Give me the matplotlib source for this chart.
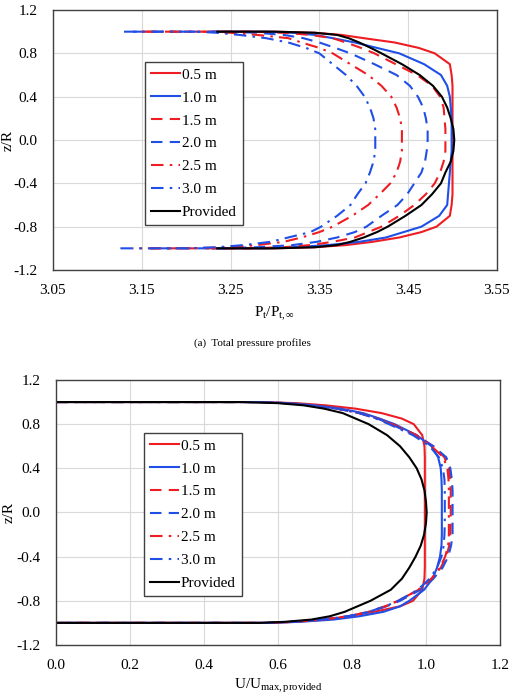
import matplotlib
matplotlib.use("Agg")
import matplotlib.pyplot as plt

plt.rcParams['font.family'] = ['Liberation Serif', 'DejaVu Serif']
plt.rcParams['mathtext.fontset'] = 'custom'
plt.rcParams['mathtext.rm'] = 'Liberation Serif'
plt.rcParams['mathtext.it'] = 'Liberation Serif:italic'

labels = ["0.5 m", "1.0 m", "1.5 m", "2.0 m", "2.5 m", "3.0 m", "Provided"]

# common z/R grid for every profile
z_grid = [1.0, 1.0, 0.99, 0.97, 0.94, 0.9, 0.85, 0.8, 0.7, 0.6, 0.5, 0.4, 0.3, 0.2, 0.1, 0.0,
          -0.1, -0.2, -0.3, -0.4, -0.5, -0.6, -0.7, -0.8, -0.85, -0.9, -0.94, -0.97, -0.99, -1.0, -1.0]

# (a) total pressure profiles Pt/Pt,inf
pt_05 = [3.23, 3.30, 3.345, 3.375, 3.40, 3.435, 3.462, 3.48, 3.497, 3.499, 3.5, 3.5, 3.5, 3.5, 3.5, 3.5,
         3.5, 3.5, 3.5, 3.5, 3.5, 3.499, 3.497, 3.482, 3.465, 3.44, 3.41, 3.38, 3.345, 3.30, 3.23]
pt_10 = [3.23, 3.29, 3.32, 3.345, 3.365, 3.39, 3.415, 3.44, 3.468, 3.487, 3.494, 3.497, 3.498, 3.499, 3.499, 3.499,
         3.499, 3.498, 3.497, 3.496, 3.495, 3.494, 3.485, 3.465, 3.445, 3.425, 3.395, 3.36, 3.32, 3.29, 3.23]
pt_15 = [3.155, 3.27, 3.31, 3.34, 3.365, 3.38, 3.397, 3.412, 3.436, 3.46, 3.477, 3.486, 3.49, 3.491, 3.492, 3.492,
         3.492, 3.49, 3.486, 3.48, 3.47, 3.457, 3.44, 3.42, 3.405, 3.39, 3.365, 3.34, 3.31, 3.27, 3.16]
pt_20 = [3.14, 3.24, 3.28, 3.31, 3.332, 3.35, 3.368, 3.385, 3.412, 3.437, 3.452, 3.461, 3.467, 3.47, 3.472, 3.472,
         3.471, 3.469, 3.465, 3.457, 3.449, 3.438, 3.42, 3.403, 3.39, 3.37, 3.347, 3.32, 3.28, 3.24, 3.16]
pt_25 = [3.15, 3.22, 3.25, 3.28, 3.315, 3.33, 3.35, 3.365, 3.385, 3.405, 3.42, 3.431, 3.437, 3.441, 3.443, 3.443,
         3.443, 3.441, 3.437, 3.43, 3.418, 3.405, 3.387, 3.365, 3.35, 3.33, 3.31, 3.28, 3.25, 3.20, 3.14]
pt_30 = [3.13, 3.21, 3.235, 3.26, 3.29, 3.315, 3.335, 3.35, 3.365, 3.38, 3.392, 3.401, 3.407, 3.411, 3.413, 3.413,
         3.413, 3.411, 3.407, 3.402, 3.393, 3.385, 3.37, 3.352, 3.34, 3.315, 3.295, 3.265, 3.235, 3.20, 3.12]
pt_prov = [3.235, 3.30, 3.345, 3.37, 3.383, 3.395, 3.408, 3.42, 3.443, 3.463, 3.478, 3.488, 3.494, 3.498, 3.501, 3.502,
           3.501, 3.498, 3.492, 3.487, 3.477, 3.465, 3.447, 3.427, 3.415, 3.40, 3.385, 3.37, 3.345, 3.30, 3.235]

# (b) velocity profiles U/Umax,provided
u_05 = [0.0, 0.55, 0.65, 0.73, 0.81, 0.88, 0.935, 0.967, 0.99, 0.996, 0.997, 0.997, 0.997, 0.997, 0.997, 0.997,
        0.997, 0.997, 0.997, 0.997, 0.997, 0.996, 0.99, 0.965, 0.93, 0.86, 0.79, 0.73, 0.65, 0.58, 0.0]
u_10 = [0.0, 0.55, 0.63, 0.70, 0.77, 0.83, 0.875, 0.915, 0.975, 1.015, 1.033, 1.04, 1.042, 1.043, 1.043, 1.043,
        1.043, 1.043, 1.042, 1.038, 1.03, 1.018, 0.995, 0.955, 0.93, 0.885, 0.82, 0.75, 0.66, 0.58, 0.0]
u_15 = [0.0, 0.55, 0.62, 0.69, 0.76, 0.82, 0.87, 0.91, 0.975, 1.02, 1.05, 1.062, 1.066, 1.067, 1.067, 1.067,
        1.067, 1.066, 1.063, 1.055, 1.04, 1.015, 0.98, 0.925, 0.89, 0.845, 0.79, 0.72, 0.64, 0.57, 0.0]
u_20 = [0.0, 0.55, 0.62, 0.69, 0.76, 0.82, 0.87, 0.905, 0.97, 1.02, 1.055, 1.066, 1.07, 1.072, 1.072, 1.072,
        1.072, 1.072, 1.068, 1.06, 1.045, 1.02, 0.985, 0.93, 0.893, 0.848, 0.79, 0.72, 0.64, 0.57, 0.0]
u_25 = [0.0, 0.55, 0.62, 0.69, 0.76, 0.82, 0.868, 0.905, 0.97, 1.015, 1.047, 1.058, 1.061, 1.062, 1.062, 1.062,
        1.062, 1.062, 1.06, 1.052, 1.038, 1.015, 0.98, 0.925, 0.89, 0.845, 0.79, 0.72, 0.64, 0.57, 0.0]
u_30 = [0.0, 0.55, 0.62, 0.69, 0.76, 0.82, 0.865, 0.9, 0.965, 1.01, 1.035, 1.046, 1.05, 1.051, 1.051, 1.051,
        1.051, 1.05, 1.048, 1.042, 1.03, 1.01, 0.978, 0.925, 0.89, 0.845, 0.79, 0.72, 0.64, 0.57, 0.0]
u_prov = [0.0, 0.5, 0.6, 0.67, 0.725, 0.775, 0.81, 0.845, 0.895, 0.93, 0.955, 0.975, 0.988, 0.996, 1.0, 1.002,
          1.0, 0.995, 0.986, 0.972, 0.955, 0.935, 0.905, 0.85, 0.815, 0.78, 0.74, 0.69, 0.62, 0.55, 0.0]

pt_ticks_x = [3.05, 3.15, 3.25, 3.35, 3.45, 3.55]
u_ticks_x = [0.0, 0.2, 0.4, 0.6, 0.8, 1.0, 1.2]
z_ticks = [-1.2, -0.8, -0.4, 0.0, 0.4, 0.8, 1.2]

RED = '#EE1D23'
BLUE = '#1F4FE6'
dash = (0, (5.5, 3.5))
dashdot = (0, (6, 3, 1.2, 3))
styles = [
    dict(color=RED, linestyle='-'),
    dict(color=BLUE, linestyle='-'),
    dict(color=RED, linestyle=dash),
    dict(color=BLUE, linestyle=dash),
    dict(color=RED, linestyle=dashdot),
    dict(color=BLUE, linestyle=dashdot),
    dict(color='black', linestyle='-'),
]

FS = 11

fig = plt.figure(figsize=(5.12, 7.0), dpi=100)
ax1 = fig.add_axes([0.1035, 0.6143, 0.867, 0.3714])
ax2 = fig.add_axes([0.1094, 0.0786, 0.867, 0.3786])


def style_axes(ax, xticks, xlim, ylab_x):
    ax.set_xlim(*xlim)
    ax.set_ylim(-1.2, 1.2)
    ax.set_xticks(xticks)
    ax.set_yticks(z_ticks)
    ax.set_xticklabels([f"{v:.2f}" if xlim[0] > 1 else f"{v:.1f}" for v in xticks])
    ax.set_yticklabels([f"{v:.1f}" for v in z_ticks])
    ax.grid(True, color='#D9D9D9', linewidth=0.8)
    ax.set_axisbelow(True)
    ax.tick_params(length=0, labelsize=FS, colors='black')
    ax.tick_params(axis='x', pad=10)
    ax.tick_params(axis='y', pad=11)
    for s in ax.spines.values():
        s.set_color('#404040')
        s.set_linewidth(1.0)
    ax.set_ylabel('z/R', fontsize=FS)
    ax.yaxis.label.set_va('center')
    ax.yaxis.set_label_coords(ylab_x, 0.5)


pt_series = [pt_05, pt_10, pt_15, pt_20, pt_25, pt_30, pt_prov]
u_series = [u_05, u_10, u_15, u_20, u_25, u_30, u_prov]

for data, lab, st in zip(pt_series, labels, styles):
    ax1.plot(data, z_grid, label=lab, linewidth=1.5, **st)
for data, lab, st in zip(u_series, labels, styles):
    ax2.plot(data, z_grid, label=lab, linewidth=1.5, **st)

style_axes(ax1, pt_ticks_x, (3.05, 3.55), -0.1)
style_axes(ax2, u_ticks_x, (0.0, 1.2), -0.106)

ax1.set_xlabel(r'P$_\mathregular{t}$/P$_{\mathregular{t},\infty}$', fontsize=FS, labelpad=6)
ax2.set_xlabel(r'U/U$_\mathregular{max,provided}$', fontsize=FS, labelpad=4)

for ax, anchor in ((ax1, (0.207, 0.8)), (ax2, (0.198, 0.8))):
    leg = ax.legend(loc='upper left', bbox_to_anchor=anchor, fontsize=FS,
                    handlelength=1.9, handletextpad=0.1, labelspacing=0.6,
                    borderpad=0.4, borderaxespad=0.0, fancybox=False,
                    framealpha=1.0, edgecolor='#404040')
    leg.get_frame().set_linewidth(1.0)

fig.text(0.494, 1 - 343 / 700, '(a)  Total pressure profiles', ha='center', va='center', fontsize=8)

fig.savefig('out.png', dpi=100)
